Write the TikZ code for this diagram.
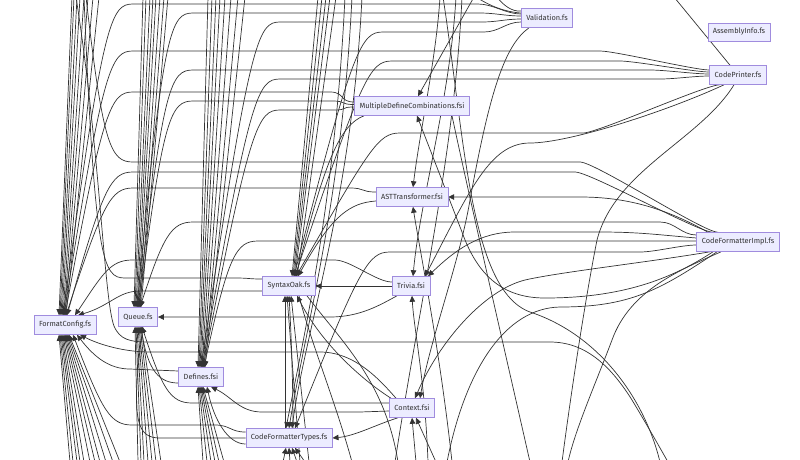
\documentclass[tikz,border=0pt]{standalone}
\usepackage{fontspec}
\setmainfont{Fira Sans}
\usetikzlibrary{arrows.meta,calc}
\definecolor{mfill}{HTML}{ECECFF}
\definecolor{mborder}{HTML}{A08CDE}
\definecolor{mtext}{HTML}{333333}
\definecolor{medge}{HTML}{333333}
\pgfdeclarelayer{bg}
\pgfsetlayers{bg,main}
\tikzset{
 box/.style={draw=mborder, fill=mfill, line width=0.55pt, minimum height=19pt, inner xsep=5pt, inner ysep=0pt, font=\fontsize{7.4}{8}\selectfont, text=mtext},
 e/.style={draw=medge, line width=0.7pt},
 a/.style={e, -{Triangle[length=6pt,width=5.5pt]}},
}
% style, source, fan end x, level y, bend x, target, bend dy
\newcommand\hv[7]{\draw[#1] (#2) .. controls +(-15,0) and ({#3+15},#4) .. (#3,#4) -- (#5,#4) .. controls ({#5-22},#4) and ({#5-30},{#4+#7}) .. (#6);}
\begin{document}
\begin{tikzpicture}[x=1pt,y=-1pt]
\useasboundingbox (0,0) rectangle (800,459);
\node[box] (val) at (547,18) {Validation.fs};
\node[box, minimum height=18pt] (asm) at (739,32) {AssemblyInfo.fs};
\node[box] (cp) at (738,75) {CodePrinter.fs};
\node[box] (mdc) at (412,106) {MultipleDefineCombinations.fsi};
\node[box] (ast) at (412,197) {ASTTransformer.fsi};
\node[box] (cfi) at (738,242) {CodeFormatterImpl.fs};
\node[box] (so) at (289,286) {SyntaxOak.fs};
\node[box] (tri) at (411,286) {Trivia.fsi};
\node[box] (fc) at (65,325) {FormatConfig.fs};
\node[box] (q) at (138,317) {Queue.fs};
\node[box] (def) at (201,377) {Defines.fsi};
\node[box] (ctx) at (412,408) {Context.fsi};
\node[box] (cft) at (289,438) {CodeFormatterTypes.fs};
\begin{pgfonlayer}{bg}
\clip (0,0) rectangle (800,459);
% vertical bundles
\foreach \x/\s [count=\i] in {72/-6pt,74/-5pt,77/-4pt,80/-3pt,84/-2pt,88/-1pt,93/0pt,99/1pt}
 {\coordinate (tf\i) at (\x,-3); \draw[a] (tf\i) -- ([xshift=\s]fc.north);}
\foreach \x/\s [count=\i] in {70/-6pt,73/-5pt,77/-4pt,80/-3pt,84/-2pt,90/-1pt,95/0pt,100/1pt,106/2pt,113/3pt,120/4pt}
 {\coordinate (bf\i) at (\x,462); \draw[a] (bf\i) -- ([xshift=\s]fc.south);}
\foreach \x/\s [count=\i] in {143/-4pt,146/-3pt,150/-2pt,153/-1pt,156/0pt,160/1pt,164/2pt,168/3pt}
 {\coordinate (tq\i) at (\x,-3); \draw[a] (tq\i) -- ([xshift=\s]q.north);}
\foreach \x/\s [count=\i] in {138/-3pt,141/-2pt,144/-1pt,148/0pt,152/1pt,156/2pt,161/3pt}
 {\coordinate (bq\i) at (\x,462); \draw[a] (bq\i) -- ([xshift=\s]q.south);}
\foreach \x/\s [count=\i] in {208/-3pt,212/-2pt,216/-1pt,220/0pt,225/1pt,231/2pt,238/3pt,245/4pt}
 {\coordinate (td\i) at (\x,-3); \draw[a] (td\i) -- ([xshift=\s]def.north);}
\foreach \x/\s [count=\i] in {203/-3pt,207/-2pt,211/-1pt,215/0pt,219/1pt,224/2pt}
 {\coordinate (bd\i) at (\x,462); \draw[a] (bd\i) -- ([xshift=\s]def.south);}
\foreach \x/\s [count=\i] in {318/3pt,322/4pt,326/5pt,330/6pt,336/8pt}
 {\coordinate (ts\i) at (\x,-3); \draw[a] (ts\i) -- ([xshift=\s]so.north);}
\foreach \x/\s [count=\i] in {345/-3pt,352/0pt,362/3pt}
 {\coordinate (tc\i) at (\x,-3); \draw[a] (tc\i) .. controls ({\x-10},200) and (305,330) .. ([xshift=\s]cft.north);}
\foreach \x/\s [count=\i] in {283/-3pt,290/0pt,297/3pt,305/6pt}
 {\coordinate (bc\i) at (\x,462); \draw[a] (bc\i) -- ([xshift=\s]cft.south);}
\foreach \x/\s [count=\i] in {300/-2pt,309/2pt}
 {\coordinate (bs\i) at (\x,462); \draw[a] (bs\i) -- ([xshift=\s]so.south);}
\draw[a] ([xshift=-4pt]cft.north) -- ([xshift=-4pt]so.south);
\draw[a] ([xshift=4pt]cft.north) .. controls (293,380) and (291,330) .. (so.south);
% Validation
\hv{a}{[yshift=4pt]val.west}{478}{4}{133}{[xshift=-2pt]fc.north}{15}
\hv{a}{[yshift=2pt]val.west}{480}{13}{193}{[xshift=-1pt]q.north}{15}
\hv{a}{[yshift=-1pt]val.west}{482}{22}{280}{def.north}{15}
\hv{a}{[yshift=-4pt]val.west}{484}{32}{383}{[xshift=5pt]so.north}{15}
\draw[a] ([xshift=-18pt]val.south) .. controls (505,45) and (490,90) .. (470,200) .. controls (460,260) and (430,340) .. ([xshift=8pt]ctx.north);
\coordinate (tv1) at (476,-3); \coordinate (tv2) at (497,-3);
\draw[e] ([yshift=5pt]val.west) .. controls (505,12) and (490,6) .. (tv1);
\draw[e] ([yshift=7pt]val.west) .. controls (512,12) and (503,5) .. (tv2);
% CodePrinter
\hv{a}{[yshift=5pt]cp.west}{600}{51}{133}{[xshift=-1pt]fc.north}{15}
\hv{a}{[yshift=3pt]cp.west}{620}{61}{392}{[xshift=6pt]so.north}{15}
\hv{a}{[yshift=1pt]cp.west}{650}{70}{193}{q.north}{15}
\hv{a}{[yshift=-1pt]cp.west}{660}{79}{280}{[xshift=1pt]def.north}{15}
\hv{a}{[xshift=-18pt]cp.south}{583}{133}{400}{[xshift=7pt]so.north}{15}
\draw[a] ([xshift=-14pt]cp.south) .. controls (670,110) and (570,143) .. (530,143) .. controls (490,143) and (470,190) .. ([xshift=14pt]tri.north);
\coordinate (bcp) at (562,462);
\draw[e] ([xshift=-4pt]cp.south) .. controls (700,140) and (615,170) .. (597,240) .. controls (585,300) and (570,400) .. (bcp);
\coordinate (tcp) at (674,-3);
\draw[e] ([xshift=-8pt]cp.north) -- (tcp);
% MultipleDefineCombinations
\hv{a}{[yshift=4pt]mdc.west}{330}{92}{133}{fc.north}{15}
\hv{a}{[yshift=1.5pt]mdc.west}{332}{101}{193}{[xshift=1pt]q.north}{15}
\hv{a}{[yshift=-1pt]mdc.west}{334}{110}{280}{[xshift=2pt]def.north}{15}
\draw[a] ([xshift=-48pt]mdc.south) .. controls (340,125) and (325,160) .. ([xshift=7pt]so.north);
\coordinate (tm) at (474,-3);
\draw[a] (tm) -- ([xshift=6pt]mdc.north);
\coordinate (bm) at (530,462);
\draw[e] ([xshift=40pt]mdc.south) .. controls (470,200) and (500,330) .. (bm);
% ASTTransformer
\hv{a}{[yshift=5pt]ast.west}{350}{188}{133}{[xshift=1pt]fc.north}{15}
\draw[a] ([yshift=-4pt]ast.west) .. controls (350,203) and (332,215) .. ([xshift=9pt]so.north);
\coordinate (ta) at (440,-3);
\draw[a] (ta) .. controls (436,60) and (420,130) .. ([xshift=1pt]ast.north);
\coordinate (ba) at (452,462);
\draw[a] (ba) .. controls (440,350) and (418,240) .. ([xshift=1pt]ast.south);
\draw[a] ([xshift=-30pt]cfi.north) .. controls (660,205) and (620,197) .. (580,197) -- (ast.east);
% CodeFormatterImpl
\coordinate (tci) at (86,-3);
\hv{e}{[xshift=-20pt]cfi.north}{580}{162}{133}{tci}{-15}
\hv{a}{[xshift=-25pt]cfi.north}{575}{172}{133}{[xshift=2pt]fc.north}{15}
\hv{a}{[yshift=7pt]cfi.west}{660}{222}{193}{[xshift=2pt]q.north}{15}
\draw[a] ([yshift=4pt]cfi.west) .. controls (660,235) and (640,232) .. (600,232) -- (515,232) .. controls (480,232) and (455,250) .. ([xshift=17pt]tri.north);
\hv{a}{[yshift=1pt]cfi.west}{640}{241}{258}{[xshift=3pt]def.north}{15}
\hv{a}{[yshift=-3pt]cfi.west}{640}{252}{390}{[xshift=6pt]cft.north}{15}
\draw[a] ([xshift=-28pt]cfi.south) .. controls (650,262) and (560,272) .. (525,280) .. controls (485,290) and (440,340) .. ([xshift=3pt]ctx.north);
\draw[a] ([xshift=-25pt]cfi.south) .. controls (670,280) and (620,298) .. (545,298) .. controls (510,298) and (480,283) .. (462,232) -- ([xshift=5pt]mdc.south);
\coordinate (bc5) at (447,462);
\draw[e] ([xshift=-21pt]cfi.south) .. controls (660,290) and (630,307) .. (560,307) .. controls (505,308) and (465,370) .. (bc5);
\coordinate (bc6) at (568,462);
\draw[e] ([xshift=-17pt]cfi.south) .. controls (680,270) and (630,290) .. (612,340) .. controls (595,385) and (575,430) .. (bc6);
% Trivia
\draw[a] (tri.west) -- (so.east);
\hv{a}{[yshift=4pt]tri.west}{335}{260}{132}{[xshift=10pt]fc.north}{15}
\draw[a] ([xshift=-14pt]tri.south) .. controls (380,305) and (360,317) .. (330,317) -- (q.east);
\coordinate (bt) at (428,462);
\draw[a] (bt) .. controls (425,380) and (414,330) .. ([xshift=1pt]tri.south);
\coordinate (tt) at (456,-3);
\draw[a] (tt) .. controls (450,100) and (420,200) .. ([xshift=2pt]tri.north);
% Context
\draw[a] ([xshift=-16pt]ctx.north) .. controls (380,380) and (355,352) .. (320,352) -- (150,352) .. controls (125,352) and (100,345) .. ([xshift=15pt]fc.south);
\hv{a}{[yshift=5pt]ctx.west}{360}{403}{192}{[xshift=4pt]q.south}{-15}
\hv{a}{[yshift=-3pt]ctx.west}{360}{412}{262}{[xshift=10pt]def.south}{-15}
\draw[a] ([xshift=-14pt]ctx.south) .. controls (375,425) and (355,436) .. (cft.east);
\draw[a] ([xshift=-21pt]ctx.north) .. controls (370,385) and (325,350) .. ([xshift=8pt]so.south);
\coordinate (bx1) at (416,462); \coordinate (bx2) at (436,462);
\draw[a] (bx1) -- (ctx.south);
\draw[a] (bx2) -- ([xshift=4pt]ctx.south);
% Defines
\draw[a] ([yshift=6pt]def.west) -- (130,369) .. controls (110,369) and (95,358) .. ([xshift=12pt]fc.south);
\draw[a] ([yshift=-6pt]def.west) .. controls (160,383) and (148,372) .. ([xshift=3pt]q.south);
% CodeFormatterTypes
\hv{a}{[yshift=6pt]cft.west}{215}{425}{132}{[xshift=8pt]fc.south}{-15}
\hv{a}{cft.west}{215}{438}{160}{[xshift=5pt]q.south}{-15}
\draw[a] ([yshift=-6pt]cft.west) .. controls (228,444) and (214,420) .. ([xshift=6pt]def.south);
% SyntaxOak
\hv{a}{[yshift=-5pt]so.west}{235}{291}{140}{[xshift=13pt]fc.north}{15}
\coordinate (tso) at (84,-3);
\hv{e}{[yshift=7pt]so.west}{235}{278}{125}{tso}{-15}
\coordinate (bs3) at (352,462); \coordinate (bs4) at (398,462);
\draw[e] ([xshift=10pt]so.south) .. controls (310,340) and (335,400) .. (bs3);
\draw[e] ([xshift=18pt]so.south) .. controls (340,340) and (385,380) .. (bs4);
% long edges crossing the picture
\coordinate (tx2) at (76,-3); \coordinate (bx3) at (668,462);
\draw[e] (tx2) .. controls (100,150) and (104,300) .. (114,326) .. controls (120,340) and (130,342) .. (150,342) -- (550,342) .. controls (585,342) and (610,365) .. (632,400) .. controls (650,430) and (660,448) .. (bx3);
\coordinate (tx3) at (443,-3); \coordinate (bx4) at (660,462);
\draw[e] (tx3) .. controls (465,140) and (470,290) .. (530,312) .. controls (600,335) and (645,400) .. (bx4);
\coordinate (tx4) at (462,-3); \coordinate (bx5) at (395,462);
\draw[e] (tx4) .. controls (455,150) and (420,300) .. (bx5);
\end{pgfonlayer}
\end{tikzpicture}
\end{document}
